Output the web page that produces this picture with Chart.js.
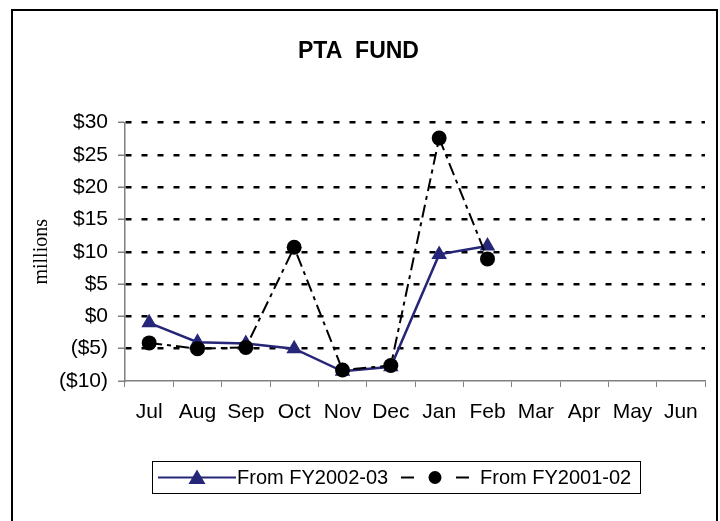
<!DOCTYPE html>
<html>
<head>
<meta charset="utf-8">
<script src="https://cdn.jsdelivr.net/npm/chart.js@4/dist/chart.umd.min.js"></script>
<style>
  html, body { margin: 0; padding: 0; background: #fff; }
  #wrap { position: relative; width: 720px; height: 521px; overflow: hidden; }
  #frame { position: absolute; left: 11px; top: 9px; width: 703px; height: 540px; border: 2px solid #000; }
  canvas { position: absolute; left: 0; top: 0; }
  #legend { position: absolute; left: 152px; top: 461px; width: 489px; height: 33px; box-sizing: border-box;
            border: 1px solid #000; font: 20px Arial, "Liberation Sans", sans-serif; color: #000; }
  #legend svg { position: absolute; top: 0; }
  #legend span { position: absolute; top: 4px; white-space: nowrap; }
</style>
</head>
<body>
<div id="wrap">
  <div id="frame"></div>
  <canvas id="fund-chart" width="720" height="521"></canvas>
  <div id="legend">
    <svg style="left:5px" width="80" height="31">
      <line x1="0" y1="15.5" x2="78" y2="15.5" stroke="#262678" stroke-width="2"/>
      <polygon points="39,7.5 47.5,22 30.5,22" fill="#262678"/>
    </svg>
    <span style="left:84px">From FY2002-03</span>
    <svg style="left:246px" width="72" height="31">
      <line x1="2" y1="15.5" x2="15" y2="15.5" stroke="#000" stroke-width="2"/>
      <circle cx="36" cy="15.5" r="6.5" fill="#000"/>
      <line x1="57" y1="15.5" x2="70" y2="15.5" stroke="#000" stroke-width="2"/>
    </svg>
    <span style="left:327px">From FY2001-02</span>
  </div>
</div>
<script>
const fundCanvas = document.getElementById("fund-chart");

// data (millions)
const months = ["Jul", "Aug", "Sep", "Oct", "Nov", "Dec", "Jan", "Feb", "Mar", "Apr", "May", "Jun"];
const fy2002 = [-1.0, -4.0, -4.2, -5.0, -8.5, -7.8, 9.6, 10.9, null, null, null, null];
const fy2001 = [-4.1, -5.0, -4.8, 10.7, -8.3, -7.6, 27.6, 8.9, null, null, null, null];
const yMin = -10;
const yMax = 30;
const yStep = 5;

function money(v) {
  return v < 0 ? "($" + -v + ")" : "$" + v;
}

const axisFont = { family: "Arial, 'Liberation Sans'", size: 21 };

const fundChart = new Chart(fundCanvas, {
  type: "line",
  data: {
    labels: months,
    datasets: [
      {
        label: "From FY2002-03",
        data: fy2002,
        borderColor: "#262678",
        backgroundColor: "#262678",
        borderWidth: 2.5,
        pointStyle: "triangle",
        pointRadius: 9,
        pointBorderWidth: 0,
        tension: 0,
        order: 1,
      },
      {
        label: "From FY2001-02",
        data: fy2001,
        borderColor: "#000",
        backgroundColor: "#000",
        borderWidth: 2,
        borderDash: [13, 5, 4, 5],
        pointStyle: "circle",
        pointRadius: 7.5,
        pointBorderWidth: 0,
        tension: 0,
        order: 0,
      },
    ],
  },
  options: {
    responsive: false,
    animation: false,
    layout: {
      padding: { top: 38, left: 12, right: 15, bottom: 97 },
    },
    scales: {
      x: {
        offset: true,
        afterFit: (scale) => { scale.height = 43; },
        grid: {
          offset: true,
          drawOnChartArea: false,
          color: "#808080",
          tickLength: 6,
        },
        border: { color: "#808080", width: 1.5 },
        ticks: {
          maxRotation: 0,
          autoSkip: false,
          padding: 13,
          color: "#000",
          font: axisFont,
        },
      },
      y: {
        min: yMin,
        max: yMax,
        afterFit: (scale) => { scale.width = 113; },
        ticks: {
          stepSize: yStep,
          padding: 10,
          color: "#000",
          font: axisFont,
          callback: (v) => money(v),
        },
        grid: {
          color: (ctx) => (ctx.tick && ctx.tick.value === yMin ? "rgba(0,0,0,0)" : "#000"),
          lineWidth: 2.5,
          tickLength: 7,
          tickColor: "#808080",
          tickWidth: 1.5,
          tickBorderDash: [],
        },
        border: { color: "#808080", width: 1.5, dash: [6, 10] },
        title: {
          display: true,
          text: "millions",
          color: "#000",
          font: { family: "'Liberation Serif', 'Times New Roman', serif", size: 20 },
          padding: { top: 18, bottom: 7 },
        },
      },
    },
    plugins: {
      legend: { display: false },
      tooltip: { enabled: false },
      title: {
        display: true,
        text: "PTA  FUND",
        color: "#000",
        font: { family: "Arial, 'Liberation Sans'", size: 23, weight: "bold" },
        padding: { top: 0, bottom: 57 },
      },
    },
  },
});
</script>
</body>
</html>
